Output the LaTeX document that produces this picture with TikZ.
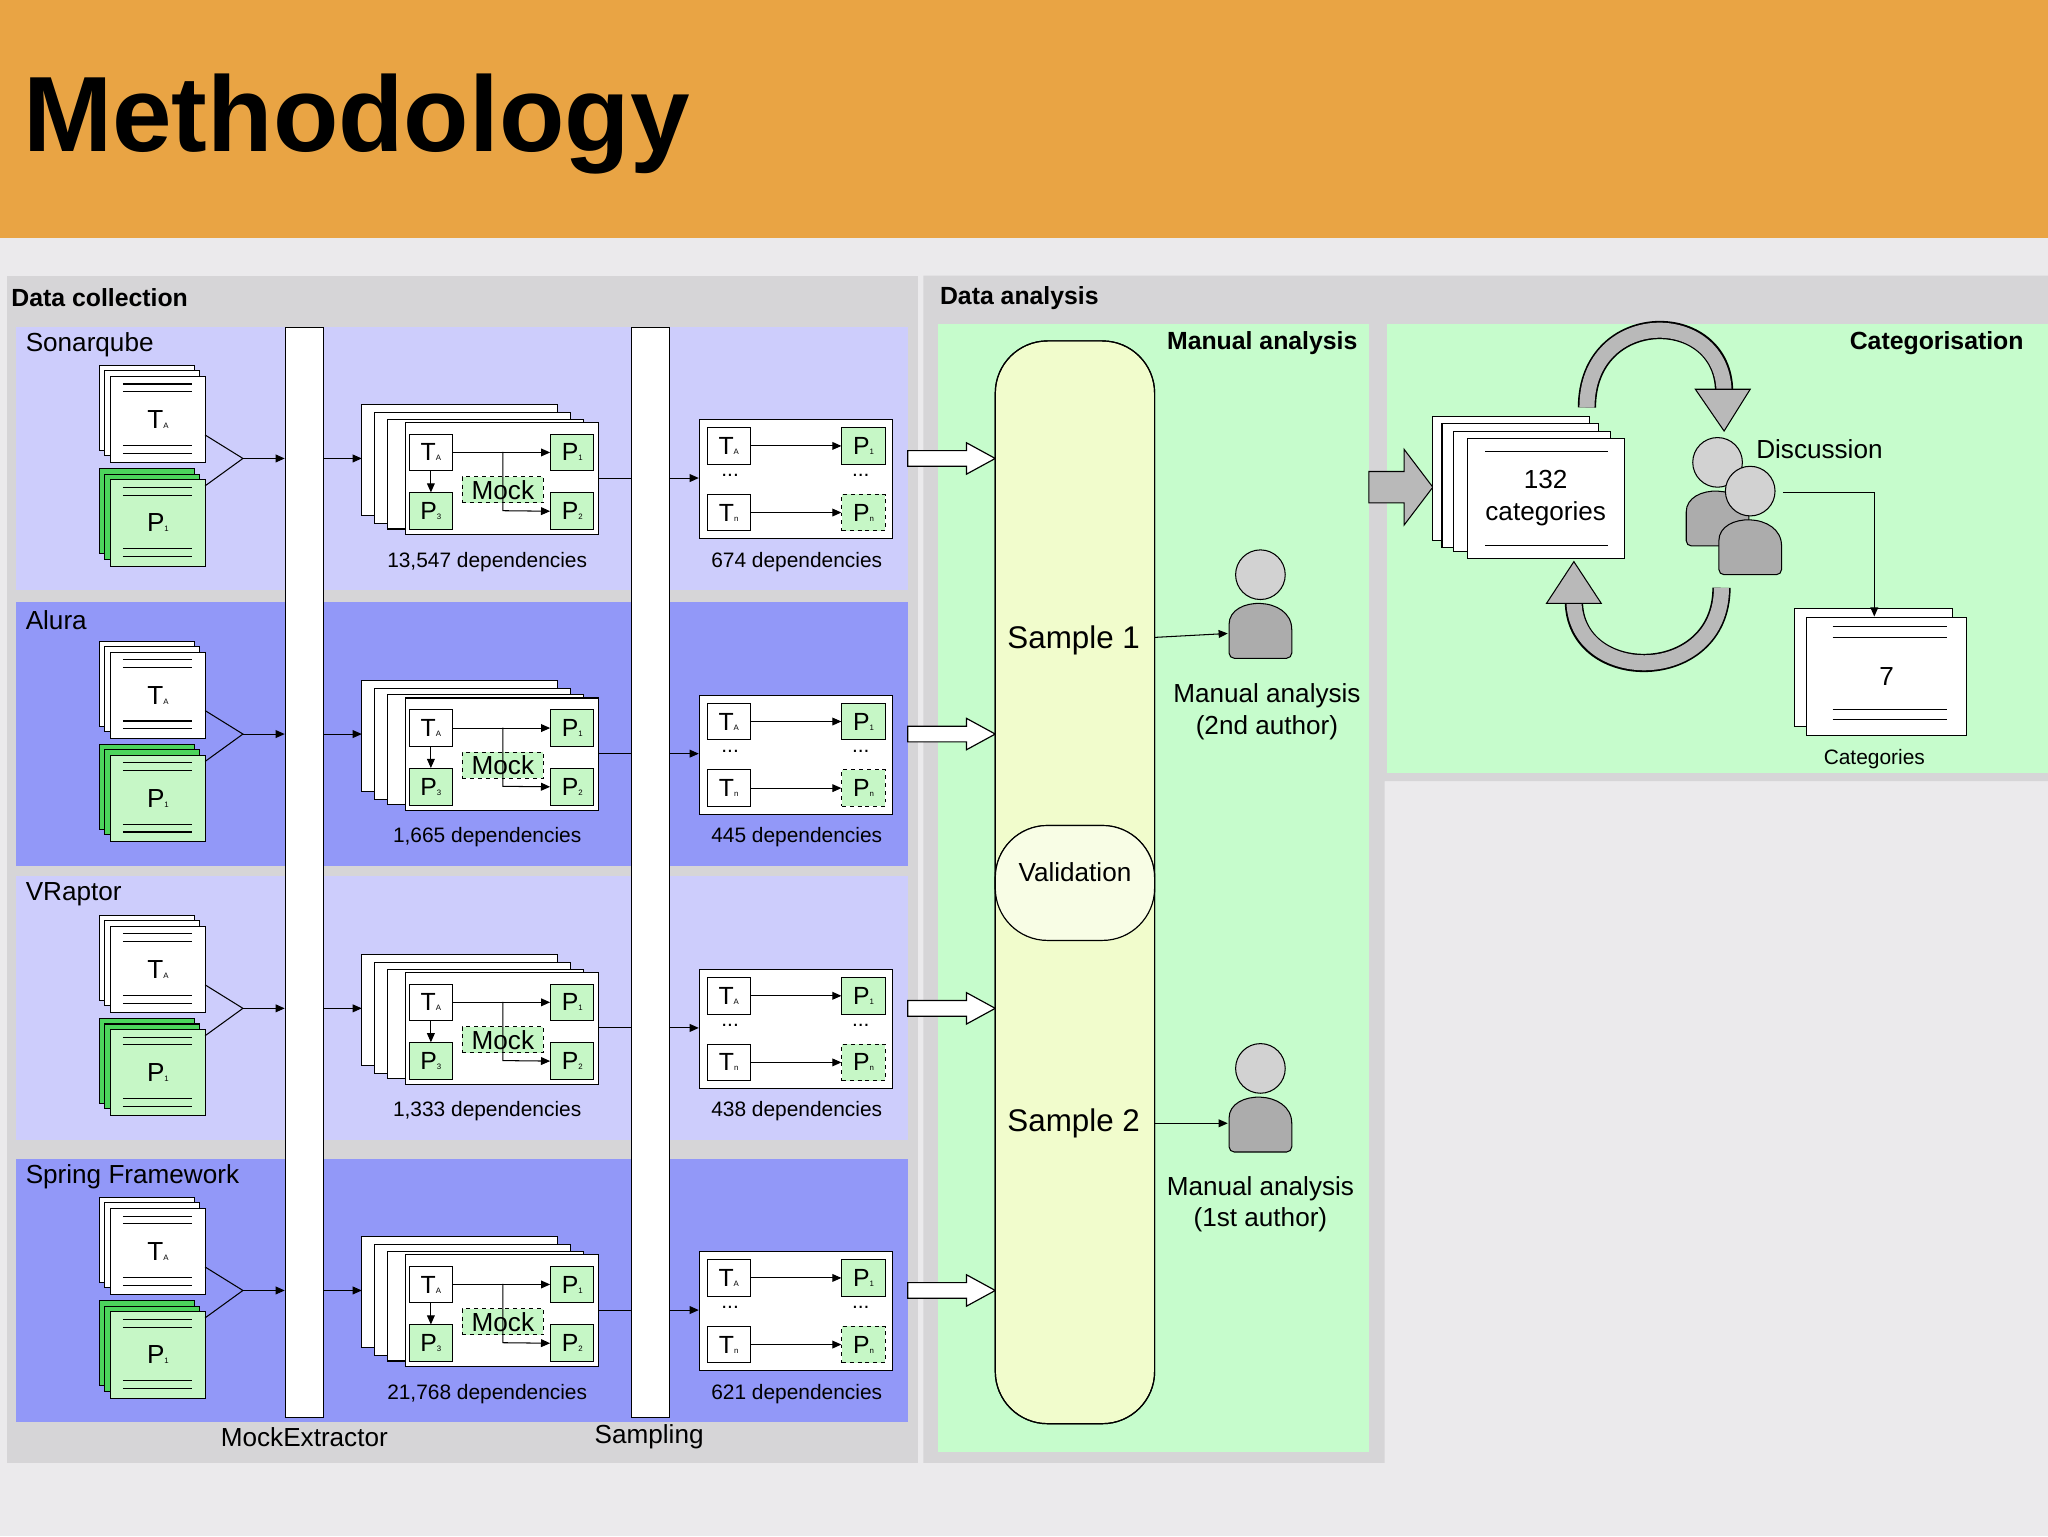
\documentclass[tikz,border=0pt]{standalone}
\usepackage{fontspec}
\setmainfont{Liberation Sans}
\usetikzlibrary{arrows.meta}
\definecolor{hdr}{HTML}{E9A444}
\definecolor{pagebg}{HTML}{EBEAEC}
\definecolor{panel}{HTML}{D6D5D7}
\definecolor{lightrow}{HTML}{CDCDFC}
\definecolor{darkrow}{HTML}{9298F8}
\definecolor{pgreen}{HTML}{C6F7C6}
\definecolor{dgreen}{HTML}{4CD45C}
\definecolor{agreen}{HTML}{C6FCCC}
\definecolor{syel}{HTML}{F1FCCC}
\newcommand\sbs[1]{{\fontsize{6}{6}\selectfont #1}}
\newcommand\fs[1]{\fontsize{#1}{\numexpr#1*6/5\relax}\selectfont}
\newcommand\mydoc[6]{%
 \draw[fill=#3] (#1-8,#2-8) rectangle ++(73,65);
 \draw[fill=#3] (#1-4,#2-4) rectangle ++(73,65);
 \node[draw,fill=#4,minimum width=73pt,minimum height=66pt,anchor=north west,inner sep=0,font=\fs{20}] (#5) at (#1,#2) {#6};
 \draw (#1+10,#2+6)--++(53,0) (#1+10,#2+12)--++(53,0) (#1+10,#2+53)--++(53,0) (#1+10,#2+59)--++(53,0);}
\tikzset{
 bx/.style={draw,fill=white,minimum width=33pt,minimum height=28pt,inner sep=0,font=\fs{19}},
 gbx/.style={bx,fill=pgreen},
 ar/.style={-{Triangle[length=7pt,width=6pt]},line width=0.8pt},
 lab/.style={font=\fs{16}},
 pill/.style={draw,rounded corners=40pt,line width=0.9pt},
}
\newcommand\person[3]{%
 \draw[fill=gray!65,line width=0.8pt] (#1-24,#2+30) [rounded corners=4pt]-- (#1-24,#2+8) [rounded corners=0pt] .. controls (#1-24,#2-18) and (#1+24,#2-18) .. (#1+24,#2+8) [rounded corners=4pt]-- (#1+24,#2+30) -- cycle;
 \node[circle,draw,fill=gray!35,minimum size=38pt,inner sep=0,line width=0.8pt] (#3) at (#1,#2-34) {};}
\begin{document}
\begin{tikzpicture}[x=1pt,y=-1pt,line width=0.8pt]
\useasboundingbox (0,0) rectangle (1568,1176);
\fill[pagebg] (0,0) rectangle (1568,1176);
\fill[hdr] (0,0) rectangle (1568,182);
\node[anchor=west,font=\fs{82}\bfseries] (title) at (14,95) {Methodology};
% panels
\fill[panel] (5,211) rectangle (703,1120);
\fill[panel] (707,211) -- (1568,211) -- (1568,598) -- (1060,598) -- (1060,1120) -- (707,1120) -- cycle;
\node[anchor=west,font=\fs{19}\bfseries] (dc) at (5,228) {Data collection};
\node[anchor=west,font=\fs{19}\bfseries] (da) at (716,228) {Data analysis};
\fill[agreen] (718,248) rectangle (1048,1112);
\fill[agreen] (1062,248) rectangle (1568,592);
% rows
\foreach \i/\dy/\nm/\na/\nb/\col in {1/0/Sonarqube/{13,547}/674/lightrow,2/211/Alura/{1,665}/445/darkrow,3/421/VRaptor/{1,333}/438/lightrow,4/637/Spring Framework/{21,768}/621/darkrow}{
\begin{scope}[yshift=-\dy pt]
\fill[\col] (12,250) rectangle (695,452);
\node[anchor=west,font=\fs{20}] (rl\i) at (16,264) {\nm};
\mydoc{84}{288}{white}{white}{ta\i}{T\sbs{A}}
\mydoc{84}{367}{dgreen}{pgreen}{pa\i}{P\sbs{1}}
\coordinate (j\i) at (186,351);
\draw (157,333) -- (j\i) -- (157,372);
\coordinate (b1\i) at (218,351);
\draw[ar] (j\i) -- (b1\i);
% dependency stack
\draw[fill=white] (277,310) rectangle (427,395);
\draw[fill=white] (287,316) rectangle (437,401);
\draw[fill=white] (297,321) rectangle (447,405);
\node[draw,fill=white,minimum width=148pt,minimum height=86pt,anchor=north west,inner sep=0] (dep\i) at (310,323) {};
\coordinate (b1o\i) at (247,351);
\draw[ar] (b1o\i) -- (277,351);
\node[bx,anchor=north west] (t\i) at (313,332) {T\sbs{A}};
\node[gbx,anchor=north east] (p1\i) at (455,332) {P\sbs{1}};
\node[gbx,anchor=north west] (p3\i) at (313,377) {P\sbs{3}};
\node[gbx,anchor=north east] (p2\i) at (455,377) {P\sbs{2}};
\node[draw,dashed,fill=pgreen,minimum width=62pt,minimum height=20pt,inner sep=0,font=\fs{20}] (mk\i) at (385,375) {Mock};
\draw[ar] (t\i) -- (p1\i);
\draw[ar] (t\i) -- (p3\i);
\draw[ar] (385,346) -- (385,391) -- (p2\i.west);
\node[lab] (dl\i) at (373,430) {\na{} dependencies};
\coordinate (b2\i) at (483,366);
\draw (dep\i.east |- b2\i) -- (b2\i);
% sample box
\node[draw,fill=white,minimum width=148pt,minimum height=91pt,anchor=north west,inner sep=0] (sb\i) at (535,321) {};
\draw[ar] (512,366) -- (sb\i.west |- 0,366);
\node[bx,anchor=north west] (st\i) at (541,327) {T\sbs{A}};
\node[gbx,anchor=north east] (sp\i) at (678,327) {P\sbs{1}};
\node[bx,anchor=north west] (sn\i) at (541,378) {T\sbs{n}};
\node[gbx,dashed,anchor=north east] (spn\i) at (678,378) {P\sbs{n}};
\draw[ar] (st\i) -- (sp\i);
\draw[ar] (sn\i) -- (spn\i);
\node[font=\fs{16},inner sep=0] (d1\i) at (559,364) {...};
\node[font=\fs{16},inner sep=0] (d2\i) at (659,364) {...};
\node[lab] (sl\i) at (610,430) {\nb{} dependencies};
\draw[fill=white,line width=0.9pt] (695,345) -- (740,345) -- (740,339) -- (762,351) -- (740,363) -- (740,357) -- (695,357) -- cycle;
\end{scope}}
% bars
\node[draw,fill=white,minimum width=29pt,minimum height=835pt,anchor=north west,inner sep=0] (mex) at (218,250) {};
\node[draw,fill=white,minimum width=29pt,minimum height=835pt,anchor=north west,inner sep=0] (smp) at (483,250) {};
\node[font=\fs{20}] (mexl) at (233,1100) {MockExtractor};
\node[font=\fs{20}] (smpl) at (497,1100) {Sampling};
% manual analysis
\node[anchor=north east,font=\fs{19}\bfseries] (mat) at (1043,250) {Manual analysis};
\draw[pill,fill=syel] (762,261) rectangle (884,720);
\draw[pill,fill=syel] (762,632) rectangle (884,1090);
\begin{scope}
\clip[rounded corners=40pt] (762,261) rectangle (884,720);
\fill[rounded corners=40pt,syel!50] (762,632) rectangle (884,1090);
\end{scope}
\draw[rounded corners=40pt,line width=0.9pt] (762,261) rectangle (884,720);
\draw[rounded corners=40pt,line width=0.9pt] (762,632) rectangle (884,1090);
\node[font=\fs{24}] (s1) at (822,490) {Sample 1};
\node[font=\fs{24}] (s2) at (822,860) {Sample 2};
\node[font=\fs{20}] (val) at (823,668) {Validation};
\person{965}{474}{h1}
\person{965}{852}{h2}
\draw[ar] (884,488) -- (940,485);
\draw[ar] (884,860) -- (940,860);
\node[font=\fs{20},align=center] (m2) at (970,545) {Manual analysis\\(2nd author)};
\node[font=\fs{20},align=center] (m1) at (965,922) {Manual analysis\\(1st author)};
% categorisation
\node[anchor=north east,font=\fs{19}\bfseries] (catt) at (1553,250) {Categorisation};
\draw[fill=gray!55] (1048,361) -- (1075,361) -- (1075,344) -- (1097,373) -- (1075,402) -- (1075,385) -- (1048,385) -- cycle;
\draw[fill=white] (1097,319) rectangle (1217,414);
\draw[fill=white] (1104,324) rectangle (1224,419);
\draw[fill=white] (1113,330) rectangle (1233,422);
\node[draw,fill=white,minimum width=120pt,minimum height=92pt,anchor=north west,inner sep=0,font=\fs{20},align=center] (c132) at (1123,335) {132\\categories};
\draw (1137,346) -- ++(94,0) (1137,418) -- ++(94,0);
% curved arrows
\draw[line width=14pt] (1215,312) .. controls (1215,235) and (1320,235) .. (1320,300);
\draw[line width=11.5pt,gray!55] (1215,312) .. controls (1215,235) and (1320,235) .. (1320,301);
\draw[fill=gray!55] (1298,298) -- (1340,298) -- (1320,330) -- cycle;
\draw[line width=14pt] (1318,450) .. controls (1318,525) and (1205,525) .. (1205,460);
\draw[line width=11.5pt,gray!55] (1318,450) .. controls (1318,525) and (1205,525) .. (1205,459);
\draw[fill=gray!55] (1184,462) -- (1226,462) -- (1205,430) -- cycle;
\node[font=\fs{20}] (disc) at (1393,344) {Discussion};
\person{1315}{388}{pp1}
\person{1340}{410}{pp2}
\draw[fill=white] (1374,466) rectangle (1495,556);
\node[draw,fill=white,minimum width=122pt,minimum height=91pt,anchor=north west,inner sep=0,font=\fs{20}] (c7) at (1383,472) {7};
\draw (1403,480) -- ++(88,0) (1403,488) -- ++(88,0) (1403,543) -- ++(88,0) (1403,551) -- ++(88,0);
\draw[ar] (1365,377) -- (1435,377) -- (c7.north -| 1435,0);
\node[lab] (catl) at (1435,581) {Categories};
\end{tikzpicture}
\end{document}
